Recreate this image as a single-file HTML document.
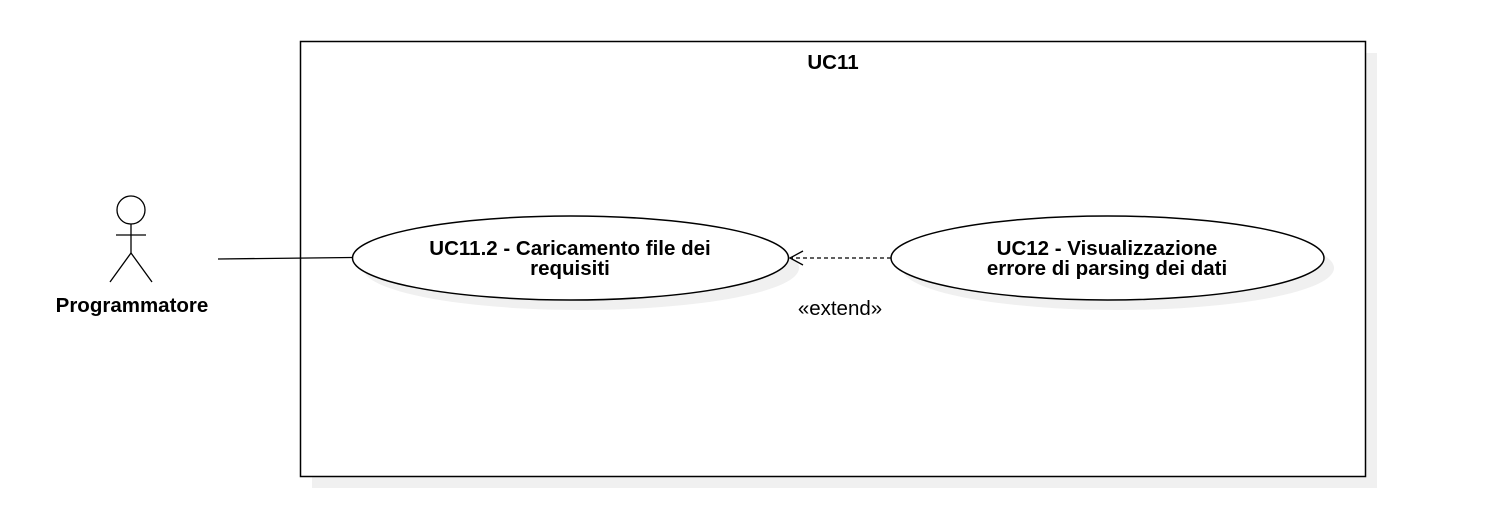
<!DOCTYPE html>
<html><head><meta charset="utf-8"><style>body{margin:0;background:#fff}</style></head>
<body>
<svg width="1486" height="516" xmlns="http://www.w3.org/2000/svg" font-family="Liberation Sans, sans-serif">
<rect x="312" y="53" width="1065" height="435" fill="#f0f0f0"/>
<rect x="300.5" y="41.5" width="1065" height="435" fill="#fff" stroke="#000" stroke-width="1.5"/>
<text x="833" y="69" text-anchor="middle" font-size="20.5" font-weight="bold">UC11</text>
<ellipse cx="581" cy="268" rx="218" ry="42" fill="#f0f0f0"/>
<ellipse cx="1118" cy="268" rx="216" ry="42" fill="#f0f0f0"/>
<ellipse cx="570.5" cy="258" rx="218" ry="42" fill="#fff" stroke="#000" stroke-width="1.5"/>
<ellipse cx="1107.5" cy="258" rx="216.5" ry="42" fill="#fff" stroke="#000" stroke-width="1.5"/>
<text x="570" y="255" text-anchor="middle" font-size="20.5" font-weight="bold">UC11.2 - Caricamento file dei</text>
<text x="570" y="275" text-anchor="middle" font-size="20.5" font-weight="bold">requisiti</text>
<text x="1107" y="255" text-anchor="middle" font-size="20.5" font-weight="bold">UC12 - Visualizzazione</text>
<text x="1107" y="275" text-anchor="middle" font-size="20.5" font-weight="bold">errore di parsing dei dati</text>
<line x1="218" y1="259" x2="352" y2="257.5" stroke="#000" stroke-width="1.3"/>
<line x1="891" y1="258" x2="792" y2="258" stroke="#000" stroke-width="1.3" stroke-dasharray="4,3"/>
<polyline points="803,251 790,258 803,265" fill="none" stroke="#000" stroke-width="1.3"/>
<text x="840" y="315" text-anchor="middle" font-size="20.5">«extend»</text>
<g stroke="#000" stroke-width="1.3" fill="none">
<circle cx="131" cy="210" r="14" fill="#fff"/>
<line x1="131" y1="224" x2="131" y2="253"/>
<line x1="116" y1="235" x2="146" y2="235"/>
<polyline points="110,282 131,253 152,282"/>
</g>
<text x="132" y="312" text-anchor="middle" font-size="20.5" font-weight="bold">Programmatore</text>
</svg>
</body></html>
